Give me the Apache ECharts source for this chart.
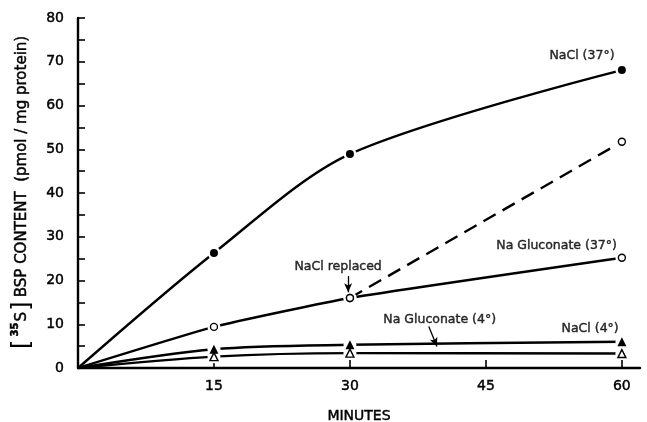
<!DOCTYPE html>
<html>
<head>
<meta charset="utf-8">
<script src="https://cdn.jsdelivr.net/npm/echarts@6/dist/echarts.min.js"></script>
<style>
  html, body { margin: 0; padding: 0; background: #fff; }
  #chart { width: 647px; height: 422px; }
</style>
</head>
<body>
<div id="chart"></div>
<script>
// Uptake of [35S]BSP over time (minutes)
const minutes = [0, 15, 30, 60];
const naCl37 = [0, 26.3, 48.9, 68.1];
const naGluc37 = [0, 9.4, 16.0, 25.2];
const naCl4 = [0, 4.3, 5.3, 6.0];
const naGluc4 = [0, 2.6, 3.4, 3.3];
// after NaCl is put back into the gluconate medium at 30 min
const replacedMinutes = [30, 60];
const naClReplaced = [16.0, 51.7];

const xTickValues = [15, 30, 45, 60];
const yLabelValues = [0, 10, 20, 30, 40, 50, 60, 70, 80];
const yTickValues = [5, 10, 15, 20, 25, 30, 35, 40, 45, 50, 55, 60, 65, 70, 75, 80];

const FONT = 'DejaVu Sans';
const INK = '#000';
// a hairline stroke gives the lettering a slightly heavier weight
const HEAVY = { textBorderColor: INK, textBorderWidth: 0.45 };

function pairs(xs, ys) { return xs.map((x, i) => [x, ys[i]]); }
// points that carry a symbol (the origin is unmarked)
function marked(xs, ys) { return pairs(xs, ys).filter(p => p[0] > 0); }

const lineBase = {
  type: 'line',
  showSymbol: false,
  symbol: 'none',
  z: 2,
  silent: true,
  lineStyle: { color: INK, width: 2.4 }
};

function markerSeries(data, symbol, filled, size) {
  return {
    type: 'scatter',
    data: data,
    symbol: symbol,
    symbolSize: size,
    z: 5,
    silent: true,
    itemStyle: {
      opacity: 1,
      color: filled ? INK : '#fff',
      borderColor: INK,
      borderWidth: filled ? 0 : 1.4
    }
  };
}

const allMarked = [].concat(
  marked(minutes, naCl37),
  marked(minutes, naGluc37),
  marked(minutes, naCl4),
  marked(minutes, naGluc4),
  marked(replacedMinutes, naClReplaced)
);

const notes = [
  { text: 'NaCl (37°)', at: [55.6, 71.3] },
  { text: 'Na Gluconate (37°)', at: [52.8, 27.9] },
  { text: 'NaCl replaced', at: [28.7, 23.1] },
  { text: 'Na Gluconate (4°)', at: [39.9, 11.0] },
  { text: 'NaCl (4°)', at: [56.5, 8.9] }
];

const chart = echarts.init(document.getElementById('chart'));
chart.setOption({
  animation: false,
  backgroundColor: '#fff',
  grid: { left: 78, right: 7, top: 18, bottom: 54, containLabel: false, outerBoundsMode: 'none' },
  xAxis: {
    type: 'value',
    min: 0,
    max: 62,
    interval: 15,
    name: 'MINUTES',
    nameLocation: 'middle',
    nameGap: 41,
    nameTextStyle: Object.assign({ fontFamily: FONT, fontSize: 14, color: INK, letterSpacing: 4.5 }, HEAVY),
    axisLine: { show: true, lineStyle: { color: INK, width: 2.4 } },
    axisTick: { show: true, inside: true, length: 8, customValues: xTickValues, lineStyle: { color: INK, width: 1.6 } },
    axisLabel: Object.assign({ show: true, customValues: xTickValues, margin: 11, fontFamily: FONT, fontSize: 14, color: INK }, HEAVY),
    splitLine: { show: false }
  },
  yAxis: {
    type: 'value',
    min: 0,
    max: 80,
    interval: 10,
    name: '{br|[}{sup|35}{s|S}{br|]}{t|BSP CONTENT  (pmol / mg protein)}',
    nameLocation: 'middle',
    nameGap: 42,
    nameRotate: 90,
    nameTextStyle: {
      fontFamily: FONT,
      color: INK,
      rich: {
        br: { fontFamily: FONT, fontSize: 25, color: INK, padding: [0, 1, 0, 1] },
        sup: Object.assign({ fontFamily: FONT, fontSize: 10, fontWeight: 'bold', color: INK, verticalAlign: 'top', padding: [0, 1, 7, 2] }, HEAVY),
        s: Object.assign({ fontFamily: FONT, fontSize: 15, color: INK }, HEAVY),
        t: Object.assign({ fontFamily: FONT, fontSize: 15, color: INK, letterSpacing: 1.3, padding: [0, 0, 0, 3] }, HEAVY)
      }
    },
    axisLine: { show: true, lineStyle: { color: INK, width: 2.4 } },
    axisTick: { show: true, inside: true, length: 7, customValues: yTickValues, lineStyle: { color: INK, width: 1.6 } },
    axisLabel: Object.assign({ show: true, customValues: yLabelValues, margin: 14, fontFamily: FONT, fontSize: 14, color: INK }, HEAVY),
    splitLine: { show: false }
  },
  series: [
    Object.assign({}, lineBase, { name: 'NaCl (37°)', data: pairs(minutes, naCl37), smooth: 0.3 }),
    Object.assign({}, lineBase, { name: 'Na Gluconate (37°)', data: pairs(minutes, naGluc37), smooth: 0.15 }),
    Object.assign({}, lineBase, { name: 'NaCl (4°)', data: pairs(minutes, naCl4), smooth: 0.3 }),
    Object.assign({}, lineBase, { name: 'Na Gluconate (4°)', data: pairs(minutes, naGluc4), smooth: 0.3 }),
    Object.assign({}, lineBase, {
      name: 'NaCl replaced',
      data: pairs(replacedMinutes, naClReplaced),
      lineStyle: { color: INK, width: 2.4, type: [14, 8] }
    }),
    // white halos open a small gap in the lines around every symbol
    {
      type: 'scatter',
      name: 'halo',
      data: allMarked,
      symbol: 'circle',
      symbolSize: 13,
      z: 4,
      silent: true,
      itemStyle: { color: '#fff', opacity: 1, borderWidth: 0 }
    },
    markerSeries(marked(minutes, naCl37), 'circle', true, 8),
    markerSeries(marked(minutes, naGluc37), 'circle', false, 7),
    markerSeries(marked(replacedMinutes, naClReplaced), 'circle', false, 7),
    markerSeries(marked(minutes, naCl4), 'triangle', true, 9),
    markerSeries(marked(minutes, naGluc4), 'triangle', false, 8),
    // text notes and pointer arrows
    {
      type: 'scatter',
      data: notes.map(n => ({ value: n.at, name: n.text })),
      symbolSize: 0,
      z: 6,
      silent: true,
      label: Object.assign({
        show: true,
        position: 'inside',
        formatter: p => p.name,
        fontFamily: FONT,
        fontSize: 12.5,
        letterSpacing: 0.7,
        color: INK
      }, HEAVY),
      markLine: {
        silent: true,
        symbol: ['none', 'arrow'],
        symbolSize: [6, 9],
        label: { show: false },
        lineStyle: { color: INK, width: 1.3, type: 'solid' },
        data: [
          [{ coord: [29.8, 21.0] }, { coord: [29.8, 17.3] }],
          [{ coord: [38.7, 9.5] }, { coord: [39.6, 4.9] }]
        ]
      }
    }
  ]
});
</script>
</body>
</html>
